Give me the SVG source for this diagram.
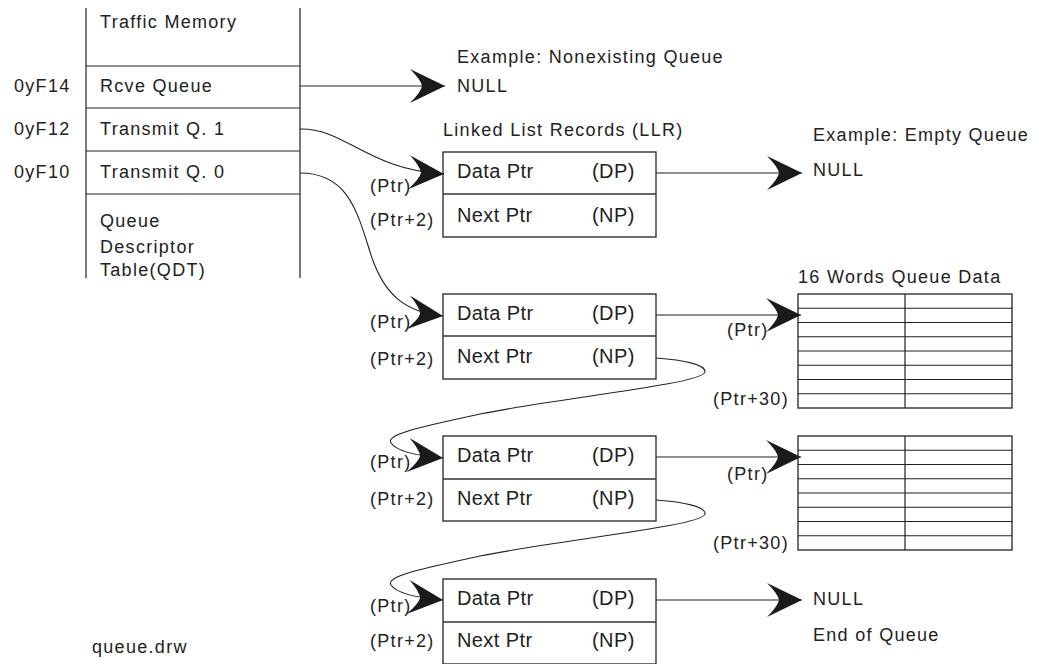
<svg xmlns="http://www.w3.org/2000/svg" width="1039" height="664" viewBox="0 0 1039 664">
<style>
  .t { font-family: "Liberation Sans", Arial, sans-serif; font-size: 18px; letter-spacing: 1.3px; fill: #222; }
  .b { font-family: "Liberation Sans", Arial, sans-serif; font-size: 20px; letter-spacing: 0.4px; fill: #222; }
  .ln { stroke: #222; stroke-width: 1.2; fill: none; }
  .bx { stroke: #333; stroke-width: 1.4; fill: #fff; }
  .con { stroke: #222; stroke-width: 1.1; fill: none; marker-end: url(#ah); }
</style>
<defs>
  <marker id="ah" markerUnits="userSpaceOnUse" viewBox="-36 -20 40 40" markerWidth="40" markerHeight="40" refX="0" refY="0" orient="auto">
    <path d="M0,0 L-35,-17 Q-24,-6 -23,0 Q-24,6 -35,17 Z" fill="#1a1a1a"/>
  </marker>
</defs>
<rect width="1039" height="664" fill="#fff"/>

<g id="qdt">
  <line class="ln" x1="86" y1="8" x2="86" y2="278"/>
  <line class="ln" x1="300" y1="8" x2="300" y2="278"/>
  <line class="ln" x1="86" y1="66" x2="300" y2="66"/>
  <line class="ln" x1="86" y1="108" x2="300" y2="108"/>
  <line class="ln" x1="86" y1="151" x2="300" y2="151"/>
  <line class="ln" x1="86" y1="194" x2="300" y2="194"/>
  <text class="t" x="100" y="28">Traffic Memory</text>
  <text class="t" x="14" y="92">0yF14</text>
  <text class="t" x="100" y="92">Rcve Queue</text>
  <text class="t" x="14" y="135">0yF12</text>
  <text class="t" x="100" y="135">Transmit Q. 1</text>
  <text class="t" x="14" y="178">0yF10</text>
  <text class="t" x="100" y="178">Transmit Q. 0</text>
  <text class="t" x="100" y="227">Queue</text>
  <text class="t" x="100" y="253">Descriptor</text>
  <text class="t" x="100" y="276">Table(QDT)</text>
</g>

<g id="labels">
  <text class="t" x="457" y="63">Example: Nonexisting Queue</text>
  <text class="t" x="457" y="92">NULL</text>
  <text class="t" x="443" y="136">Linked List Records (LLR)</text>
  <text class="t" x="813" y="141">Example: Empty Queue</text>
  <text class="t" x="813" y="176">NULL</text>
  <text class="t" x="798" y="283">16 Words Queue Data</text>
  <text class="t" x="813" y="605">NULL</text>
  <text class="t" x="813" y="641">End of Queue</text>
  <text class="t" x="92" y="653">queue.drw</text>
</g>

<g id="llr1">
  <rect class="bx" x="443" y="152" width="213" height="85"/>
  <line class="bx" x1="443" y1="194" x2="656" y2="194"/>
  <text class="b" x="457" y="178">Data Ptr</text>
  <text class="b" x="592" y="178">(DP)</text>
  <text class="b" x="457" y="222">Next Ptr</text>
  <text class="b" x="592" y="222">(NP)</text>
  <text class="t" x="370" y="192">(Ptr)</text>
  <text class="t" x="370" y="226">(Ptr+2)</text>
</g>

<g id="llr2">
  <rect class="bx" x="443" y="294" width="213" height="85"/>
  <line class="bx" x1="443" y1="336" x2="656" y2="336"/>
  <text class="b" x="457" y="320">Data Ptr</text>
  <text class="b" x="592" y="320">(DP)</text>
  <text class="b" x="457" y="363">Next Ptr</text>
  <text class="b" x="592" y="363">(NP)</text>
  <text class="t" x="370" y="328">(Ptr)</text>
  <text class="t" x="370" y="365">(Ptr+2)</text>
</g>

<g id="llr3">
  <rect class="bx" x="443" y="436" width="213" height="85"/>
  <line class="bx" x1="443" y1="479" x2="656" y2="479"/>
  <text class="b" x="457" y="462">Data Ptr</text>
  <text class="b" x="592" y="462">(DP)</text>
  <text class="b" x="457" y="505">Next Ptr</text>
  <text class="b" x="592" y="505">(NP)</text>
  <text class="t" x="370" y="468">(Ptr)</text>
  <text class="t" x="370" y="505">(Ptr+2)</text>
</g>

<g id="llr4">
  <rect class="bx" x="443" y="579" width="213" height="85"/>
  <line class="bx" x1="443" y1="622" x2="656" y2="622"/>
  <text class="b" x="457" y="605">Data Ptr</text>
  <text class="b" x="592" y="605">(DP)</text>
  <text class="b" x="457" y="647">Next Ptr</text>
  <text class="b" x="592" y="647">(NP)</text>
  <text class="t" x="370" y="612">(Ptr)</text>
  <text class="t" x="370" y="647">(Ptr+2)</text>
</g>

<g id="data1">
  <rect class="bx" x="798" y="294" width="214" height="114"/>
  <path class="ln" d="M905,294 V408 M798,308.25 H1012 M798,322.5 H1012 M798,336.75 H1012 M798,351 H1012 M798,365.25 H1012 M798,379.5 H1012 M798,393.75 H1012"/>
  <text class="t" x="727" y="336">(Ptr)</text>
  <text class="t" x="713" y="405">(Ptr+30)</text>
</g>

<g id="data2">
  <rect class="bx" x="798" y="436" width="214" height="114"/>
  <path class="ln" d="M905,436 V550 M798,450.25 H1012 M798,464.5 H1012 M798,478.75 H1012 M798,493 H1012 M798,507.25 H1012 M798,521.5 H1012 M798,535.75 H1012"/>
  <text class="t" x="727" y="480">(Ptr)</text>
  <text class="t" x="713" y="549">(Ptr+30)</text>
</g>

<g id="connectors">
  <path class="con" d="M300,86 H445"/>
  <path class="con" d="M300,129 C345,128 368,170 444,174"/>
  <path class="con" d="M300,173 C350,173 358,215 372,258 C385,295 405,312 443,316"/>
  <path class="con" d="M656,173 H802"/>
  <path class="con" d="M656,315 H801"/>
  <path class="con" d="M656,457 H801"/>
  <path class="con" d="M656,600 H802"/>
  <path class="con" d="M656,358 C685,360 706,365 705,372 C703,384 560,398 480,414 C425,426 385,434 391,443 C397,452 420,456 443,458"/>
  <path class="con" d="M656,500 C685,502 706,507 705,514 C703,526 560,540 480,556 C425,568 385,576 391,585 C397,594 420,598 443,600"/>
</g>
</svg>
